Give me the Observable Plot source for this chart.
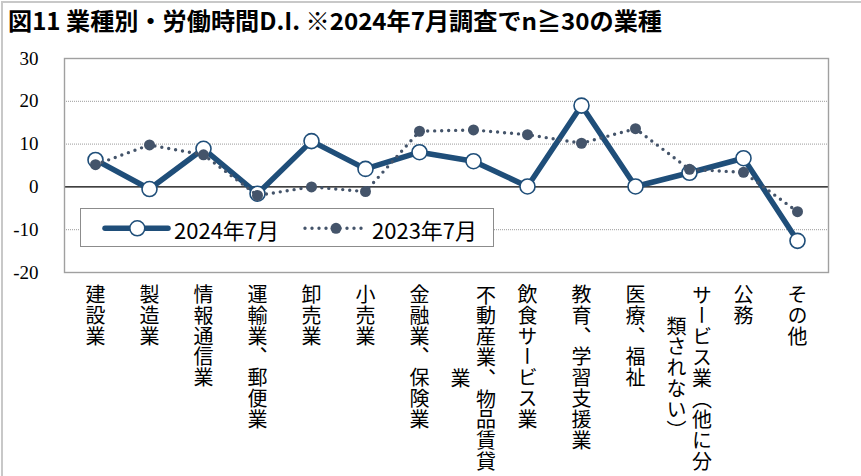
<!DOCTYPE html>
<html><head><meta charset="utf-8">
<script src="https://cdn.jsdelivr.net/npm/d3@7"></script>
<script src="https://cdn.jsdelivr.net/npm/@observablehq/plot@0.6"></script>
<style>
html,body{margin:0;padding:0;background:#fff;}
#wrap{position:relative;width:861px;height:476px;overflow:hidden;background:#fff;}
#border{position:absolute;left:1px;top:1px;width:880px;height:490px;border-left:2px solid #c8c8c8;border-top:2px solid #c8c8c8;}
#title{position:absolute;left:8px;top:7px;font-family:"Noto Sans CJK JP";font-weight:700;font-size:23.5px;line-height:26px;white-space:nowrap;transform-origin:0 0;color:#000;}
#chart{position:absolute;left:0;top:40px;}
#legend{position:absolute;left:0;top:0;pointer-events:none;}
</style></head>
<body><div id="wrap"><div id="border"></div><div id="title"></div><div id="chart"></div><svg id="legend" width="861" height="476"></svg></div>
<script>
const titleText = "図11 業種別・労働時間D.I. ※2024年7月調査でn≧30の業種";
const categories = ["建設業","製造業","情報通信業","運輸業、郵便業","卸売業","小売業","金融業、保険業","不動産業、物品賃貸業","飲食サービス業","教育、学習支援業","医療、福祉","サービス業（他に分類されない）","公務","その他"];
const tickColumn1 = ["建設業","製造業","情報通信業","運輸業、郵便業","卸売業","小売業","金融業、保険業","不動産業、物品賃貸","飲食サービス業","教育、学習支援業","医療、福祉","サービス業（他に分","公務","その他"];
const tickColumn2 = ["","","","","","","","業","","","","類されない）","",""];
const values2024 = [6.3, -0.5, 8.9, -1.6, 10.7, 4.2, 8.1, 6.0, 0.1, 19.0, 0.1, 3.3, 6.7, -12.6];
const values2023 = [5.2, 9.8, 7.5, -2.0, 0.0, -1.1, 13.0, 13.3, 12.2, 10.2, 13.6, 4.1, 3.4, -5.8];
const seriesNames = ["2024年7月", "2023年7月"];
const yTicks = [-20, -10, 0, 10, 20, 30];
const gridValues = [-10, 10, 20];

const c2024 = "#1F4E79", c2023 = "#44546A";
const serif = "'Liberation Serif', 'DejaVu Serif', serif";

const title = document.getElementById("title");
title.textContent = titleText;
const tw = title.getBoundingClientRect().width;
title.style.transform = `scaleX(${654 / tw})`;

const d2024 = categories.map((c, i) => ({cat: c, v: values2024[i]}));
const d2023 = categories.map((c, i) => ({cat: c, v: values2023[i]}));
const labels = categories.map((c, i) => ({cat: c, col1: tickColumn1[i], col2: tickColumn2[i]}));
const single = labels.filter(d => d.col2 === "");
const dbl = labels.filter(d => d.col2 !== "");

const labelFont = {fontSize: 20, fontFamily: "Noto Sans CJK JP", fill: "#000", lineAnchor: "bottom", frameAnchor: "bottom"};

const plot = Plot.plot({
  width: 861, height: 436,
  marginLeft: 64, marginRight: 33, marginTop: 18, marginBottom: 204,
  style: {fontFamily: serif, fontSize: "19px", color: "#000", background: "transparent"},
  x: {type: "point", domain: categories, padding: 0.5, axis: null},
  y: {domain: [-20, 30], label: null},
  marks: [
    Plot.gridY(gridValues, {stroke: "#9a9a9a", strokeOpacity: 1, strokeWidth: 1, strokeDasharray: "1 1"}),
    Plot.ruleY([0], {stroke: "#000", strokeWidth: 1.4}),
    Plot.frame({stroke: "#a0a0a0", strokeWidth: 1.4}),
    Plot.axisY({ticks: yTicks, tickSize: 0, tickPadding: 26, tickFormat: d => String(d), label: null, fill: "#000", fontSize: 19}),
    Plot.line(d2024, {x: "cat", y: "v", stroke: c2024, strokeWidth: 5.5, strokeLinejoin: "round"}),
    Plot.dot(d2024, {x: "cat", y: "v", r: 7.5, fill: "#fff", stroke: c2024, strokeWidth: 1.6}),
    Plot.line(d2023, {x: "cat", y: "v", stroke: c2023, strokeWidth: 3.4, strokeDasharray: "0 7", strokeLinecap: "round"}),
    Plot.dot(d2023, {x: "cat", y: "v", r: 5.5, fill: c2023, stroke: "none"}),
    Plot.text(single, {...labelFont, x: "cat", text: "col1", dy: 12, textAnchor: "start"}),
    Plot.text(dbl, {...labelFont, x: "cat", text: "col1", dx: 12.5, dy: 106, textAnchor: "middle"}),
    Plot.text(dbl, {...labelFont, x: "cat", text: "col2", dx: -13, dy: 106, textAnchor: "middle"})
  ]
});
plot.querySelectorAll('g[aria-label="text"] text').forEach(t => {
  t.setAttribute("writing-mode", "tb");
  t.style.writingMode = "vertical-rl";
  t.style.letterSpacing = "0.8px";
});
plot.querySelectorAll('g[aria-label^="y-axis"]').forEach(g => {
  g.setAttribute("font-family", serif);
  g.style.fontFamily = serif;
  g.querySelectorAll("text").forEach(t => { t.style.fontFamily = serif; t.style.fontSize = "19px"; t.style.fontVariant = "normal"; });
});
document.getElementById("chart").appendChild(plot);

// legend
const lg = d3.select("#legend");
lg.append("rect").attr("x", 80.5).attr("y", 208.5).attr("width", 413).attr("height", 38)
  .attr("fill", "#fff").attr("stroke", "#8c8c8c").attr("stroke-width", 1);
lg.append("line").attr("x1", 105).attr("x2", 168).attr("y1", 228.3).attr("y2", 228.3)
  .attr("stroke", c2024).attr("stroke-width", 5.5).attr("stroke-linecap", "round");
lg.append("circle").attr("cx", 137.3).attr("cy", 228.3).attr("r", 7.5)
  .attr("fill", "#fff").attr("stroke", c2024).attr("stroke-width", 1.6);
lg.append("line").attr("x1", 305).attr("x2", 365).attr("y1", 228.3).attr("y2", 228.3)
  .attr("stroke", c2023).attr("stroke-width", 3.4).attr("stroke-dasharray", "0 7").attr("stroke-linecap", "round");
lg.append("circle").attr("cx", 336).attr("cy", 228.3).attr("r", 5.5).attr("fill", c2023);
[[174, seriesNames[0]], [372, seriesNames[1]]].forEach(([x, s]) => {
  lg.append("text").attr("x", x).attr("y", 228.5).attr("dominant-baseline", "central")
    .attr("font-family", "Noto Sans CJK JP").attr("font-size", 22).attr("fill", "#000").text(s);
});
</script>
</body></html>
